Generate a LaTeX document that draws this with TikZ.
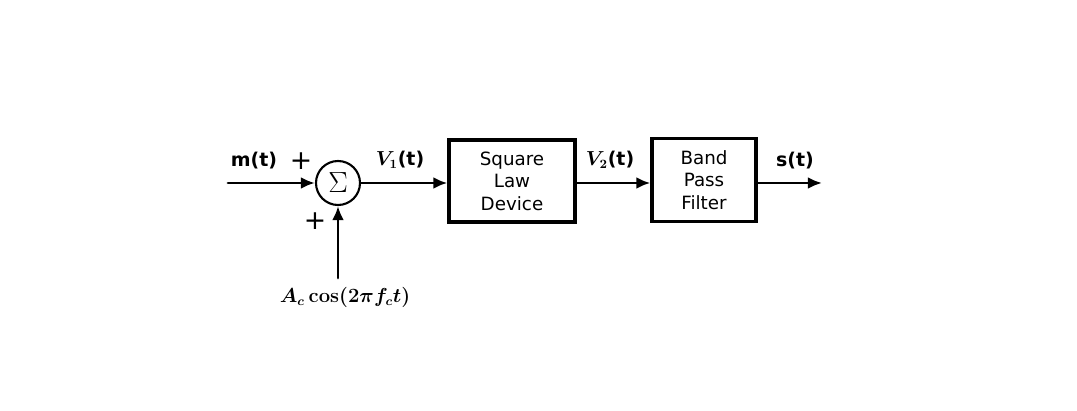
\documentclass[tikz,border=0pt]{standalone}
\usepackage[no-math]{fontspec}
\setmainfont{DejaVu Sans}
\usetikzlibrary{arrows.meta,positioning}
\newcommand{\blocktext}{\fontsize{13}{16}\selectfont}
\newcommand{\sigtext}{\fontsize{13.5}{16}\selectfont\bfseries}

\begin{document}
\begin{tikzpicture}[x=0.025cm,y=-0.025cm,>={Latex[length=10pt,width=8.5pt]},line cap=round,
    block/.style={draw,line width=2.3pt,align=center,font=\blocktext,inner sep=0pt},
    sumnode/.style={draw,circle,line width=1.5pt,minimum size=1.1cm,inner sep=0pt,
                    font=\fontsize{20}{22}\selectfont},
    sig/.style={->,line width=2.05pt},
    lbl/.style={font=\sigtext,inner sep=0pt},
    mathlbl/.style={font=\sigtext\boldmath,inner sep=0pt},
    plussign/.style={font=\fontsize{19}{20}\selectfont,inner sep=0pt}]
  \useasboundingbox (0,0) rectangle (1077,411);
  % adder and its inputs
  \coordinate (in) at (228,183);
  \node[sumnode] (sum) at (338,183) {$\Sigma$};
  \coordinate (carrier) at (338,278);
  \node[lbl] (lblm) at (254,161) {m(t)};
  \node[plussign] (plusA) at (301,161) {+};
  \node[plussign] (plusB) at (315,221) {+};
  \node[mathlbl,anchor=north] (lblcarrier) at (345,287) {$A_c\cos(2\pi f_c t)$};
  % blocks
  \node[block,minimum width=3.15cm,minimum height=2.05cm] (sq) at (512,181) {Square\\Law\\Device};
  \node[block,minimum width=2.6cm,minimum height=2.08cm] (bpf) at (704,180) {Band\\Pass\\Filter};
  \coordinate (out) at (822,183);
  % signals
  \draw[sig] (in) -- (sum);
  \draw[sig] (carrier) -- (sum);
  \draw[sig] (sum) -- (sum -| sq.west);
  \draw[sig] (sum -| sq.east) -- (sum -| bpf.west);
  \draw[sig] (sum -| bpf.east) -- (out);
  \node[mathlbl] (lblv1) at (400,160) {$V_1$(t)};
  \node[mathlbl] (lblv2) at (610,160) {$V_2$(t)};
  \node[lbl] (lbls) at (795,161) {s(t)};
\end{tikzpicture}
\end{document}
